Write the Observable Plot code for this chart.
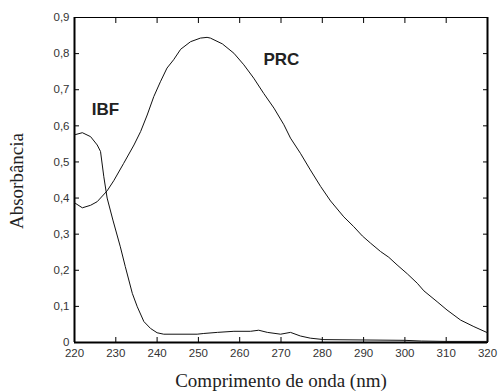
<!DOCTYPE html>
<html>
<head>
<meta charset="utf-8">
<script src="https://cdn.jsdelivr.net/npm/d3@7"></script>
<script src="https://cdn.jsdelivr.net/npm/@observablehq/plot@0.6"></script>
<style>
  html, body { margin: 0; padding: 0; background: #fff; }
  #chart { width: 498px; height: 392px; }
</style>
</head>
<body>
<div id="chart"></div>
<script>
// PRC spectrum
const prcWavelength = [220, 221.9, 223.9, 225.5, 227.9, 229.5, 231.9, 234.4, 236, 237.6, 239.2, 240.8, 242.4, 244.0, 245.7, 248.1, 250.5, 252.1, 252.9, 255.8, 258.6, 261.0, 263.4, 265.8, 268.3, 270.7, 272.3, 274.7, 277.1, 279.6, 282.0, 285.2, 287.6, 289.7, 291.7, 294.1, 296.1, 298.1, 300.6, 303.0, 304.6, 307.8, 310.2, 313.5, 316.7, 320];
const prcAbsorbance = [0.387, 0.373, 0.380, 0.390, 0.420, 0.448, 0.496, 0.547, 0.584, 0.630, 0.681, 0.722, 0.760, 0.783, 0.812, 0.833, 0.843, 0.845, 0.843, 0.827, 0.801, 0.769, 0.732, 0.690, 0.649, 0.603, 0.566, 0.524, 0.478, 0.432, 0.392, 0.348, 0.321, 0.295, 0.275, 0.252, 0.236, 0.215, 0.190, 0.164, 0.143, 0.113, 0.090, 0.062, 0.044, 0.027];
// IBF spectrum
const ibfWavelength = [220, 221.9, 223.9, 225.5, 226.3, 227.1, 227.9, 229.3, 231.1, 232.3, 234.0, 235.2, 236.8, 238.4, 240.0, 241.6, 249.7, 251.3, 254.6, 258.6, 262.6, 264.6, 266.7, 269.9, 272.3, 274.7, 277.1, 280.4, 290, 300, 304, 310, 320];
const ibfAbsorbance = [0.575, 0.581, 0.570, 0.547, 0.529, 0.459, 0.400, 0.339, 0.265, 0.210, 0.136, 0.099, 0.058, 0.039, 0.027, 0.023, 0.023, 0.025, 0.028, 0.031, 0.031, 0.034, 0.028, 0.023, 0.028, 0.018, 0.012, 0.008, 0.007, 0.006, 0.004, 0.003, 0.003];
// Curve labels
const labelNames = ["IBF", "PRC"];
const labelWavelength = [227.5, 270.1];
const labelAbsorbance = [0.644, 0.784];
// Tick values
const xTicks = [220, 230, 240, 250, 260, 270, 280, 290, 300, 310, 320];
const yTicks = [0, 0.1, 0.2, 0.3, 0.4, 0.5, 0.6, 0.7, 0.8, 0.9];

const prc = prcWavelength.map((w, i) => ({w, a: prcAbsorbance[i]}));
const ibf = ibfWavelength.map((w, i) => ({w, a: ibfAbsorbance[i]}));
const labels = labelNames.map((n, i) => ({n, w: labelWavelength[i], a: labelAbsorbance[i]}));

const fmtY = d => d === 0 ? "0" : d.toFixed(1).replace(".", ",");
const tickFont = {fontFamily: "Liberation Sans, Arial, sans-serif", fontSize: 11.5, fill: "#333"};

const chart = Plot.plot({
  width: 498,
  height: 392,
  marginLeft: 74,
  marginRight: 11,
  marginTop: 17,
  marginBottom: 50,
  style: {background: "#fff", color: "#000", overflow: "visible"},
  x: {domain: [220, 320]},
  y: {domain: [0, 0.9]},
  marks: [
    Plot.frame({stroke: "#000", strokeWidth: 1}),
    // inward tick marks (no labels)
    Plot.axisX(xTicks, {anchor: "bottom", tickSize: 5, dy: -5, fill: "none", label: null, stroke: "#000", strokeWidth: 1}),
    Plot.axisX(xTicks, {anchor: "top", tickSize: 5, dy: 5, fill: "none", label: null, stroke: "#000", strokeWidth: 1}),
    Plot.axisY(yTicks, {anchor: "left", tickSize: 5, dx: 5, fill: "none", label: null, stroke: "#000", strokeWidth: 1}),
    Plot.axisY(yTicks, {anchor: "right", tickSize: 5, dx: -5, fill: "none", label: null, stroke: "#000", strokeWidth: 1}),
    // tick labels
    Plot.axisX(xTicks, {anchor: "bottom", tickSize: 0, tickPadding: 6, tickFormat: d => String(d), label: null, ...tickFont}),
    Plot.axisY(yTicks, {anchor: "left", tickSize: 0, tickPadding: 5, tickFormat: fmtY, label: null, ...tickFont}),
    Plot.ruleY([0], {stroke: "#000", strokeWidth: 2.2}),
    Plot.ruleX([220], {stroke: "#000", strokeWidth: 2}),
    Plot.ruleX([320], {stroke: "#000", strokeWidth: 2}),
    Plot.line(prc, {x: "w", y: "a", stroke: "#111", strokeWidth: 1, curve: "linear"}),
    Plot.line(ibf, {x: "w", y: "a", stroke: "#111", strokeWidth: 1, curve: "linear"}),
    Plot.text(labels, {x: "w", y: "a", text: "n", fontFamily: "Liberation Sans, Arial, sans-serif", fontWeight: "bold", fontSize: 17, fill: "#222"})
  ]
});

const svg = d3.select(chart);
svg.append("text")
  .attr("x", 281).attr("y", 387)
  .attr("text-anchor", "middle")
  .attr("font-family", "Liberation Serif, Times New Roman, serif")
  .attr("font-size", 19)
  .attr("fill", "#222")
  .text("Comprimento de onda (nm)");
svg.append("text")
  .attr("transform", "translate(23,181) rotate(-90)")
  .attr("text-anchor", "middle")
  .attr("font-family", "Liberation Serif, Times New Roman, serif")
  .attr("font-size", 19)
  .attr("fill", "#222")
  .text("Absorbância");

document.getElementById("chart").appendChild(chart);
</script>
</body>
</html>
